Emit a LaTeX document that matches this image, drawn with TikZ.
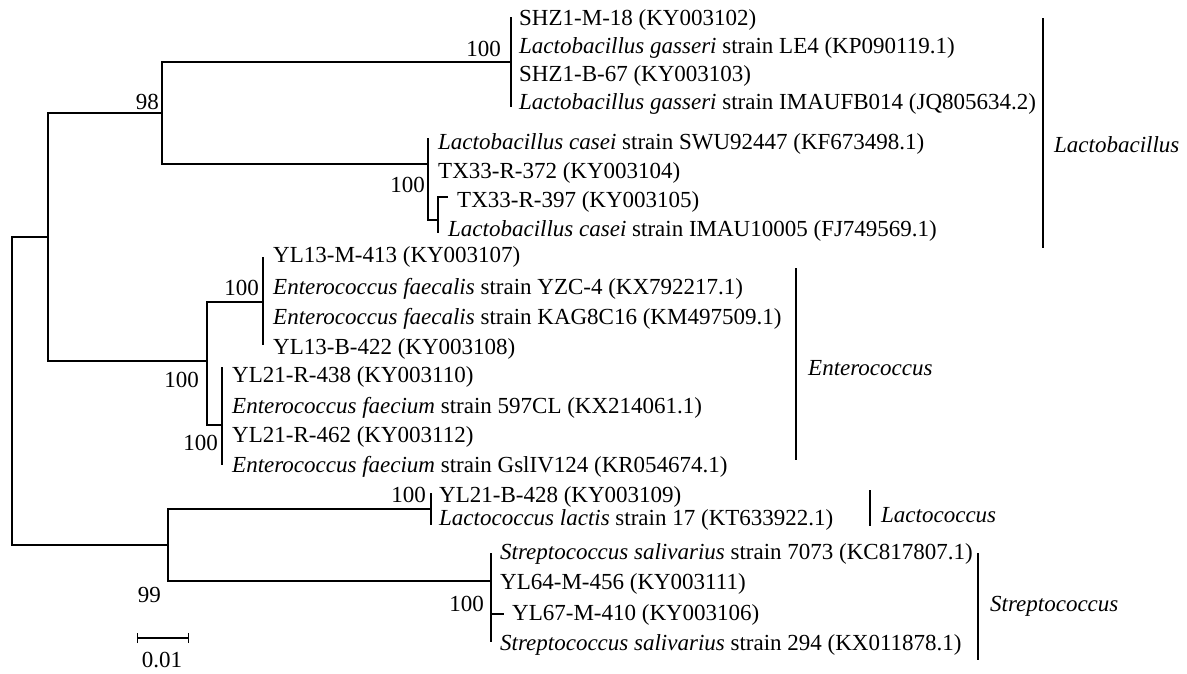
\documentclass[tikz,border=0pt]{standalone}
\usepackage{fontspec}
\setmainfont{Liberation Serif}
\usetikzlibrary{arrows.meta}
\begin{document}
\begin{tikzpicture}[x=1pt,y=-1pt,
  br/.style={line width=1.1pt,black},
  clade/.style={line width=1.2pt,black},
  leaf/.style={anchor=base west,inner sep=0pt,font=\fontsize{23}{26}\selectfont},
  boot/.style={anchor=east,inner sep=0pt,font=\fontsize{23}{26}\selectfont},
  cladelab/.style={anchor=west,inner sep=0pt,font=\fontsize{23}{26}\selectfont\itshape}]
\useasboundingbox (0,0) rectangle (1187,673);
% internal nodes
\coordinate (R) at (12,391);
\coordinate (A) at (48,237);
\coordinate (S) at (168,545);
\coordinate (Lb) at (162,113);
\coordinate (En) at (207,361);
\coordinate (Lg) at (511,62);
\coordinate (Lc) at (428,164);
\coordinate (Ls) at (438,220);
\coordinate (Ef) at (263,302);
\coordinate (Efm) at (222,425);
\coordinate (Lo) at (431,509);
\coordinate (Sp) at (491,581);
% leaf tips
\coordinate (p1) at (511,17);
\coordinate (p4) at (511,107);
\coordinate (p5) at (428,138);
\coordinate (p7) at (448,197);
\coordinate (p8) at (438,233);
\coordinate (p9) at (263,257);
\coordinate (p12) at (263,345);
\coordinate (p13) at (222,367);
\coordinate (p16) at (222,465);
\coordinate (p17) at (431,493);
\coordinate (p18) at (431,525);
\coordinate (p19) at (491,553);
\coordinate (p21) at (504,614);
\coordinate (p22) at (491,642);
% branches
\draw[br] (R) |- (A);
\draw[br] (R) |- (S);
\draw[br] (A) |- (Lb);
\draw[br] (A) |- (En);
\draw[br] (Lb) |- (Lg);
\draw[br] (Lb) |- (Lc);
\draw[br] (p1) -- (p4);
\draw[br] (Lc) -- (p5);
\draw[br] (Lc) |- (Ls);
\draw[br] (Ls) |- (p7);
\draw[br] (Ls) -- (p8);
\draw[br] (En) |- (Ef);
\draw[br] (En) |- (Efm);
\draw[br] (p9) -- (p12);
\draw[br] (p13) -- (p16);
\draw[br] (S) |- (Lo);
\draw[br] (S) |- (Sp);
\draw[br] (p17) -- (p18);
\draw[br] (p19) -- (p22);
\draw[br] (Sp |- p21) -- (p21);
% bootstrap values
\node[boot] (b1) at (159,102) {98};
\node[boot] (b2) at (501,49) {100};
\node[boot] (b3) at (425,185) {100};
\node[boot] (b4) at (259,288) {100};
\node[boot] (b5) at (199,380) {100};
\node[boot] (b6) at (218,443) {100};
\node[boot] (b7) at (426,495) {100};
\node[boot] (b8) at (161,595) {99};
\node[boot] (b9) at (484,604) {100};
% leaf labels
\node[leaf] (t1) at (519,25) {SHZ1-M-18 (KY003102)};
\node[leaf] (t2) at (519,53) {\textit{Lactobacillus gasseri} strain LE4 (KP090119.1)};
\node[leaf] (t3) at (519,81) {SHZ1-B-67 (KY003103)};
\node[leaf] (t4) at (519,109) {\textit{Lactobacillus gasseri} strain IMAUFB014 (JQ805634.2)};
\node[leaf] (t5) at (438,149) {\textit{Lactobacillus casei} strain SWU92447 (KF673498.1)};
\node[leaf] (t6) at (438,178) {TX33-R-372 (KY003104)};
\node[leaf] (t7) at (457,207) {TX33-R-397 (KY003105)};
\node[leaf] (t8) at (448,236) {\textit{Lactobacillus casei} strain IMAU10005 (FJ749569.1)};
\node[leaf] (t9) at (273,262) {YL13-M-413 (KY003107)};
\node[leaf] (t10) at (273,294) {\textit{Enterococcus faecalis} strain YZC-4 (KX792217.1)};
\node[leaf] (t11) at (273,324) {\textit{Enterococcus faecalis} strain KAG8C16 (KM497509.1)};
\node[leaf] (t12) at (273,354) {YL13-B-422 (KY003108)};
\node[leaf] (t13) at (232,382) {YL21-R-438 (KY003110)};
\node[leaf] (t14) at (232,413) {\textit{Enterococcus faecium} strain 597CL (KX214061.1)};
\node[leaf] (t15) at (232,442) {YL21-R-462 (KY003112)};
\node[leaf] (t16) at (232,472) {\textit{Enterococcus faecium} strain GslIV124 (KR054674.1)};
\node[leaf] (t17) at (439,502) {YL21-B-428 (KY003109)};
\node[leaf] (t18) at (439,525) {\textit{Lactococcus lactis} strain 17 (KT633922.1)};
\node[leaf] (t19) at (500,559) {\textit{Streptococcus salivarius} strain 7073 (KC817807.1)};
\node[leaf] (t20) at (500,589) {YL64-M-456 (KY003111)};
\node[leaf] (t21) at (512,620) {YL67-M-410 (KY003106)};
\node[leaf] (t22) at (500,650) {\textit{Streptococcus salivarius} strain 294 (KX011878.1)};
% clade bars
\coordinate (c1a) at (1043,18); \coordinate (c1b) at (1043,248);
\coordinate (c2a) at (796,268); \coordinate (c2b) at (796,460);
\coordinate (c3a) at (870,490); \coordinate (c3b) at (870,526);
\coordinate (c4a) at (978,553); \coordinate (c4b) at (978,660);
\draw[clade] (c1a) -- (c1b);
\draw[clade] (c2a) -- (c2b);
\draw[clade] (c3a) -- (c3b);
\draw[clade] (c4a) -- (c4b);
\node[cladelab] (g1) at (1054,145) {Lactobacillus};
\node[cladelab] (g2) at (808,368) {Enterococcus};
\node[cladelab] (g3) at (881,515) {Lactococcus};
\node[cladelab] (g4) at (990,606) {Streptococcus};
% scale bar
\coordinate (s1) at (137,638);
\coordinate (s2) at (189,638);
\draw[br,{Bar[width=10pt]}-{Bar[width=10pt]}] (s1) -- (s2);
\node[inner sep=0pt,anchor=base,font=\fontsize{23}{26}\selectfont] (sl) at (162,667) {0.01};
\end{tikzpicture}
\end{document}
